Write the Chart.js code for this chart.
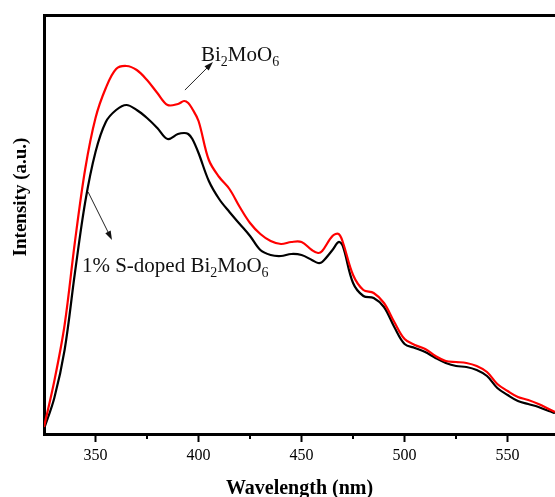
<!DOCTYPE html>
<html>
<head>
<meta charset="utf-8">
<script src="https://cdn.jsdelivr.net/npm/chart.js@4.4.0/dist/chart.umd.min.js"></script>
<style>
  html, body { margin: 0; padding: 0; background: #fff; }
  #wrap { width: 555px; height: 497px; position: relative; }
</style>
</head>
<body>
<div id="wrap"><canvas id="c"></canvas></div>
<script>
// wavelength (nm)
const wavelengths = [325, 330, 335, 340, 345, 350, 355, 360, 365, 370, 375, 380, 385, 390, 393,
    395, 397, 400, 405, 410, 415, 420, 425, 430, 435, 440, 445, 450, 455, 458,
    460, 465, 468, 470, 475, 480, 485, 490, 495, 500, 505, 510, 515, 520, 525,
    530, 535, 540, 545, 550, 555, 560, 565, 570, 573];

// PL intensity, arbitrary units
const pureBMO = [7, 53, 109, 192, 265, 316, 346, 365, 368, 364, 354, 341, 329, 330, 333,
    331, 325, 313, 274, 257, 245, 227, 211, 200, 193, 190, 192, 192, 184, 181,
    183, 198, 200, 192, 159, 144, 141, 131, 112, 95, 89, 85, 78, 73, 72,
    71, 68, 62, 50, 43, 37, 34, 30, 25, 22];

const dopedBMO = [5, 36, 84, 161, 232, 282, 312, 324, 329, 324, 316, 306, 295, 300, 301,
    300, 295, 281, 253, 235, 222, 210, 198, 184, 179, 178, 180, 179, 174, 171,
    172, 184, 192, 188, 151, 138, 136, 127, 107, 90, 86, 82, 76, 71, 68,
    67, 64, 58, 46, 39, 33, 30, 27, 23, 21];

const majorTicks = [350, 400, 450, 500, 550];
const minorTicks = [375, 425, 475, 525];

const SERIF = '"Liberation Serif", "Times New Roman", serif';

// text with subscript parts: [text, isSub]
function drawRich(ctx, parts, x, y, size) {
    let cx = x;
    parts.forEach(([t, sub]) => {
        ctx.font = (sub ? Math.round(size * 0.65) : size) + 'px ' + SERIF;
        ctx.fillText(t, cx, sub ? y + size * 0.22 : y);
        cx += ctx.measureText(t).width;
    });
}

function drawArrow(ctx, x1, y1, x2, y2) {
    const ang = Math.atan2(y2 - y1, x2 - x1);
    const len = 9, half = 3;
    ctx.strokeStyle = '#222';
    ctx.fillStyle = '#111';
    ctx.lineWidth = 1;
    ctx.beginPath();
    ctx.moveTo(x1, y1);
    ctx.lineTo(x2 - Math.cos(ang) * len * 0.8, y2 - Math.sin(ang) * len * 0.8);
    ctx.stroke();
    ctx.beginPath();
    ctx.moveTo(x2, y2);
    ctx.lineTo(x2 - Math.cos(ang) * len - Math.sin(ang) * half, y2 - Math.sin(ang) * len + Math.cos(ang) * half);
    ctx.lineTo(x2 - Math.cos(ang) * len + Math.sin(ang) * half, y2 - Math.sin(ang) * len - Math.cos(ang) * half);
    ctx.closePath();
    ctx.fill();
}

const decorations = {
    id: 'decorations',
    afterDraw(chart) {
        const ctx = chart.ctx;
        const xs = chart.scales.x, ys = chart.scales.y;
        const axisY = xs.top;
        ctx.save();

        // minor ticks
        ctx.strokeStyle = '#000';
        ctx.lineWidth = 2;
        minorTicks.forEach(v => {
            const px = Math.round(xs.getPixelForValue(v));
            ctx.beginPath();
            ctx.moveTo(px, axisY);
            ctx.lineTo(px, axisY + 5);
            ctx.stroke();
        });

        // y title
        ctx.fillStyle = '#000';
        ctx.font = 'bold 19px ' + SERIF;
        ctx.textAlign = 'center';
        ctx.textBaseline = 'middle';
        ctx.translate(21, 197);
        ctx.rotate(-Math.PI / 2);
        ctx.fillText('Intensity (a.u.)', 0, 0);
        ctx.setTransform(1, 0, 0, 1, 0, 0);

        // labels and arrows
        ctx.textAlign = 'left';
        ctx.textBaseline = 'alphabetic';
        ctx.fillStyle = '#000';
        const P = (nm, v) => [xs.getPixelForValue(nm), ys.getPixelForValue(v)];

        let [a, b] = P(393.4, 344), [c, d] = P(407, 372);
        drawArrow(ctx, a, b, c, d);
        let [tx, ty] = P(401.2, 373);
        drawRich(ctx, [['Bi', false], ['2', true], ['MoO', false], ['6', true]], tx, ty, 21);

        [a, b] = P(346.4, 242); [c, d] = P(358, 194);
        drawArrow(ctx, a, b, c, d);
        [tx, ty] = P(343.4, 162);
        drawRich(ctx, [['1% S-doped Bi', false], ['2', true], ['MoO', false], ['6', true]], tx, ty, 21);

        ctx.restore();
    }
};

new Chart(document.getElementById('c'), {
    type: 'line',
    data: {
        labels: wavelengths,
        datasets: [
            {
                label: 'Bi2MoO6',
                data: wavelengths.map((w, i) => ({ x: w, y: pureBMO[i] })),
                borderColor: '#ff0000',
                borderWidth: 2.2,
                pointRadius: 0,
                tension: 0.35,
                fill: false
            },
            {
                label: '1% S-doped Bi2MoO6',
                data: wavelengths.map((w, i) => ({ x: w, y: dopedBMO[i] })),
                borderColor: '#000000',
                borderWidth: 2.2,
                pointRadius: 0,
                tension: 0.35,
                fill: false
            }
        ]
    },
    options: {
        responsive: true,
        maintainAspectRatio: false,
        animation: false,
        devicePixelRatio: 1,
        layout: { padding: 0 },
        plugins: {
            legend: { display: false },
            tooltip: { enabled: false }
        },
        scales: {
            x: {
                type: 'linear',
                position: 'bottom',
                min: 325,
                max: 573,
                afterFit: s => { s.height = 63; },
                afterBuildTicks: s => { s.ticks = majorTicks.map(v => ({ value: v })); },
                ticks: {
                    color: '#000',
                    padding: 4,
                    maxRotation: 0,
                    font: { family: SERIF, size: 16 }
                },
                grid: {
                    display: true,
                    drawOnChartArea: false,
                    drawTicks: true,
                    tickLength: 8,
                    tickWidth: 2,
                    tickColor: '#000'
                },
                border: { display: true, color: '#000', width: 3 },
                title: {
                    display: true,
                    text: 'Wavelength (nm)',
                    color: '#000',
                    padding: { top: 0, bottom: -2 },
                    font: { family: SERIF, size: 20, weight: 'bold', lineHeight: 1 }
                }
            },
            xTop: {
                type: 'linear',
                position: 'top',
                min: 325,
                max: 573,
                afterFit: s => { s.height = 15; },
                ticks: { display: false },
                grid: { display: false },
                border: { display: true, color: '#000', width: 3 }
            },
            y: {
                type: 'linear',
                min: 0,
                max: 419,
                afterFit: s => { s.width = 44; },
                ticks: { display: false },
                grid: { display: false },
                border: { display: true, color: '#000', width: 3 }
            }
        }
    },
    plugins: [decorations]
});
</script>
</body>
</html>
